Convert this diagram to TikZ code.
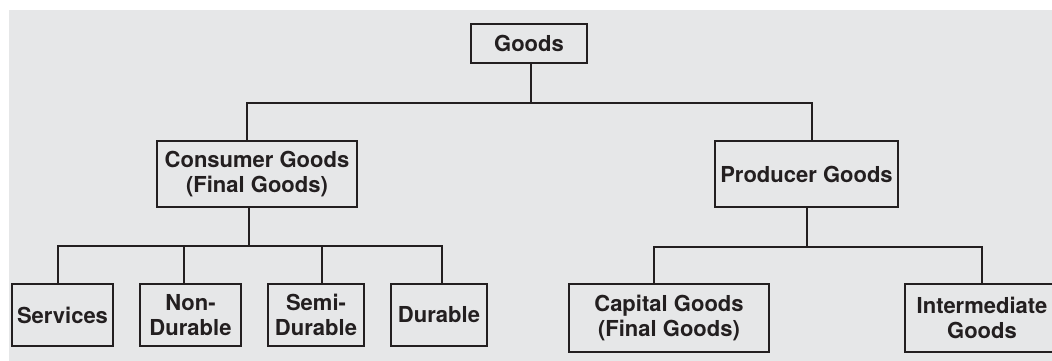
\documentclass[tikz,border=0pt]{standalone}
\usepackage{fontspec}
\setmainfont{TeX Gyre Heros}
\definecolor{bg}{HTML}{E6E7E8}
\definecolor{ink}{HTML}{231F20}
\begin{document}
\begin{tikzpicture}[x=1pt,y=-1pt,
  box/.style={draw=ink,line width=1.6pt,fill=bg,inner sep=0pt,align=center,
    text=ink,font=\fontsize{22}{25.5}\selectfont\bfseries},
  link/.style={draw=ink,line width=1.6pt}]
\useasboundingbox (0,0) rectangle (1052,360);
\fill[bg] (9,10) rectangle (1060,370);
\begin{scope}
\clip (0,0) rectangle (1052,360);
\node[box,minimum width=116pt,minimum height=39pt] (goods) at (529,43.5) {Goods};
\node[box,minimum width=200pt,minimum height=66pt] (cons) at (257,174) {Consumer Goods\\(Final Goods)};
\node[box,minimum width=183pt,minimum height=66pt] (prod) at (806.5,174) {Producer Goods};
\node[box,minimum width=101pt,minimum height=62pt] (serv) at (62.5,315) {Services};
\node[box,minimum width=101pt,minimum height=62pt] (nond) at (190.5,315) {Non-\\Durable};
\node[box,minimum width=96pt,minimum height=62pt] (semi) at (316,315) {Semi-\\Durable};
\node[box,minimum width=96pt,minimum height=62pt] (dur) at (439,315) {Durable};
\node[box,minimum width=200pt,minimum height=68pt] (cap) at (669,318) {Capital Goods\\(Final Goods)};
\node[box,minimum width=154pt,minimum height=68pt] (inter) at (982,318) {Intermediate\\Goods};

\draw[link] ([xshift=2pt]goods.south) -- ([xshift=2pt]goods.south |- 0,103) -| ([xshift=-10pt]cons.north);
\draw[link] ([xshift=2pt]goods.south |- 0,103) -| ([xshift=5.5pt]prod.north);
\draw[link] ([xshift=-8pt]cons.south) -- ([xshift=-8pt]cons.south |- 0,246) -| ([xshift=-4.5pt]serv.north);
\draw[link] ([xshift=-8pt]cons.south |- 0,246) -| ([xshift=-6.5pt]nond.north);
\draw[link] ([xshift=-8pt]cons.south |- 0,246) -| ([xshift=6pt]semi.north);
\draw[link] ([xshift=-8pt]cons.south |- 0,246) -| ([xshift=3pt]dur.north);
\draw[link] ([xshift=0.5pt]prod.south) -- ([xshift=0.5pt]prod.south |- 0,247) -| ([xshift=-15pt]cap.north);
\draw[link] ([xshift=0.5pt]prod.south |- 0,247) -| (inter.north);
\end{scope}
\end{tikzpicture}
\end{document}
